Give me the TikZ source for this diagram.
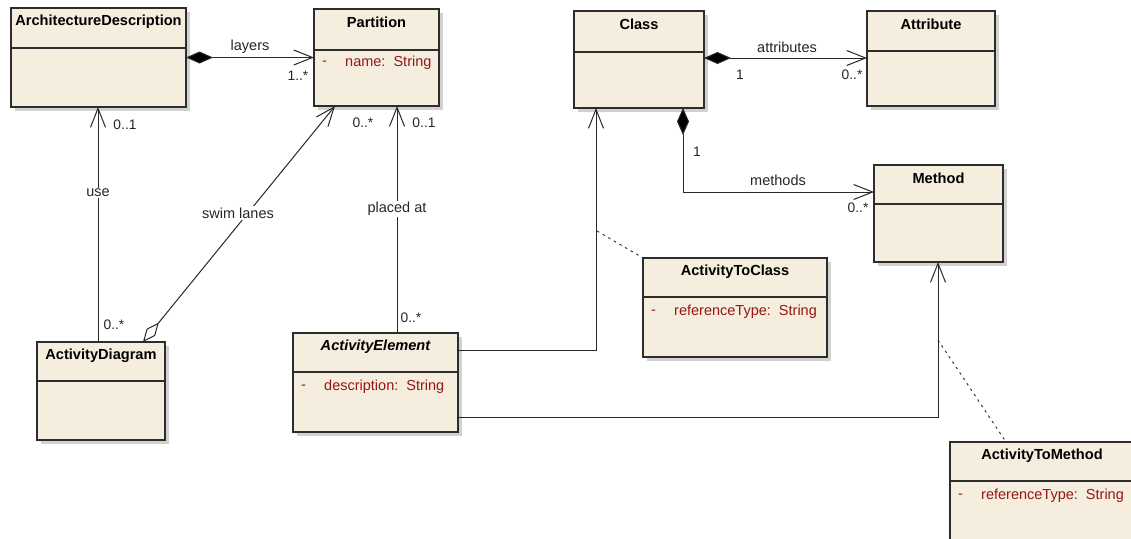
\documentclass[tikz,border=0pt]{standalone}
\usepackage{fontspec}
\setmainfont{Liberation Sans}
\usetikzlibrary{arrows.meta,shadows,calc}
\definecolor{boxfill}{RGB}{245,238,222}
\definecolor{attrred}{RGB}{150,22,22}
\definecolor{boxedge}{RGB}{45,45,45}
\definecolor{linecol}{RGB}{40,40,40}
\tikzset{
  umlbox/.style={draw=boxedge, line width=1.4pt, fill=boxfill, inner sep=0pt, outer sep=0pt,
    anchor=north west, drop shadow={shadow xshift=4pt, shadow yshift=-4pt, fill=black!18, opacity=1}},
  divline/.style={draw=boxedge, line width=1.2pt},
  titletxt/.style={font=\fontsize{14.6}{16}\selectfont\bfseries, inner sep=0pt, anchor=center},
  attrtxt/.style={font=\fontsize{14.5}{16}\selectfont, text=attrred, inner sep=0pt, anchor=west},
  lbl/.style={font=\fontsize{14.5}{16}\selectfont, text=black!85, inner sep=1.5pt},
  mult/.style={font=\fontsize{13.8}{15}\selectfont, text=black!85, inner sep=0pt},
  onwhite/.style={fill=white},
  assoc/.style={draw=linecol, line width=1pt},
  openend/.style={-{Straight Barb[length=19pt,width=15pt]}},
  compopen/.style={{Diamond[length=27pt,width=12pt,fill=black]}-{Straight Barb[length=19pt,width=15pt]}},
  aggopen/.style={{Diamond[length=25pt,width=11pt,fill=white]}-{Straight Barb[length=19pt,width=15pt]}},
  notelink/.style={draw=linecol, line width=0.9pt, dash pattern=on 2.5pt off 4pt},
}
% name, x, y, width, height, divider offset, title
\newcommand\umlcls[7]{%
  \node[umlbox, minimum width=#4pt, minimum height=#5pt] (#1) at (#2,#3) {};
  \draw[divline] ($(#1.north west)+(0,#6)$) -- ($(#1.north east)+(0,#6)$);
  \node[titletxt] (#1-title) at ($(#1.north)+(0,13.5)$) {#7};
}
\newcommand\umlattr[2]{%
  \node[attrtxt] (#1-vis) at ($(#1.north west)+(8,54)$) {-};
  \node[attrtxt] (#1-attr) at ($(#1.north west)+(31,54)$) {#2};
}
\begin{document}
\begin{tikzpicture}[x=1pt,y=-1pt]
\path[use as bounding box, fill=white] (0,0) rectangle (1131,538);
\clip (0,0) rectangle (1131,538);

% classes
\umlcls{arch}{11}{8}{175}{99}{40}{ArchitectureDescription}
\umlcls{part}{314}{9}{125}{97}{41}{Partition}
\umlattr{part}{name:\ \ String}
\umlcls{cls}{574}{11}{130}{97}{41}{Class}
\umlcls{attrib}{867}{11}{128}{95}{40}{Attribute}
\umlcls{meth}{874}{165}{129}{97}{39}{Method}
\umlcls{a2c}{643}{258}{184}{99}{39}{ActivityToClass}
\umlattr{a2c}{referenceType:\ \ String}
\umlcls{actdiag}{37}{342}{128}{98}{39}{ActivityDiagram}
\umlcls{actel}{293}{333}{165}{99}{39}{\itshape ActivityElement}
\umlattr{actel}{description:\ \ String}
\umlcls{a2m}{950}{442}{184}{98}{39}{ActivityToMethod}
\umlattr{a2m}{referenceType:\ \ String}

% helper coordinates
\coordinate (useX) at (98,0);
\coordinate (swimA) at ($(actdiag.north west)+(106,0)$);
\coordinate (swimB) at ($(part.south west)+(21,0)$);
\coordinate (plX) at (397,0);
\coordinate (ecA) at (596,350);
\coordinate (emA) at (938,417);
\coordinate (caY) at (0,58);
\coordinate (cmA) at (683,192);
\coordinate (nA) at (597,231);
\coordinate (nB) at (938,340);
\coordinate (nBend) at ($(a2m.north west)+(56,0)$);

% connectors
\draw[assoc, compopen] (arch.east) -- (part.west |- arch.east);
\draw[assoc, openend] (actdiag.north -| useX) -- (arch.south -| useX);
\draw[assoc, aggopen] (swimA) -- (swimB);
\draw[assoc, openend] (actel.north -| plX) -- (part.south -| plX);
\draw[assoc, openend] (actel.east |- ecA) -- (ecA) -- (cls.south -| ecA);
\draw[assoc, openend] (actel.east |- emA) -- (emA) -- (meth.south -| emA);
\draw[assoc, compopen] (cls.east |- caY) -- (attrib.west |- caY);
\draw[assoc, compopen] (cls.south -| cmA) -- (cmA) -- (meth.west |- cmA);
\draw[notelink] (nA) -- (a2c.north west);
\draw[notelink] (nB) -- (nBend);

% labels
\node[lbl] (l-layers) at (250,47) {layers};
\node[mult] (m-layers) at (298,76) {1..*};
\node[mult] (m-use1) at (125,125) {0..1};
\node[lbl, onwhite] (l-use) at (98,193) {use};
\node[mult] (m-use2) at (114,325) {0..*};
\node[lbl, onwhite] (l-swim) at (238,213) {swim lanes};
\node[mult] (m-swim) at (363,123) {0..*};
\node[lbl, onwhite] (l-placed) at (397,209) {placed at};
\node[mult] (m-pl1) at (424,123) {0..1};
\node[mult] (m-pl2) at (411,318) {0..*};
\node[lbl] (l-attr) at (787,47) {attributes};
\node[mult] (m-attr1) at (740,75) {1};
\node[mult] (m-attr2) at (852,75) {0..*};
\node[mult] (m-meth1) at (697,152) {1};
\node[lbl] (l-meth) at (778,180) {methods};
\node[mult] (m-meth2) at (858,208) {0..*};
\end{tikzpicture}
\end{document}
